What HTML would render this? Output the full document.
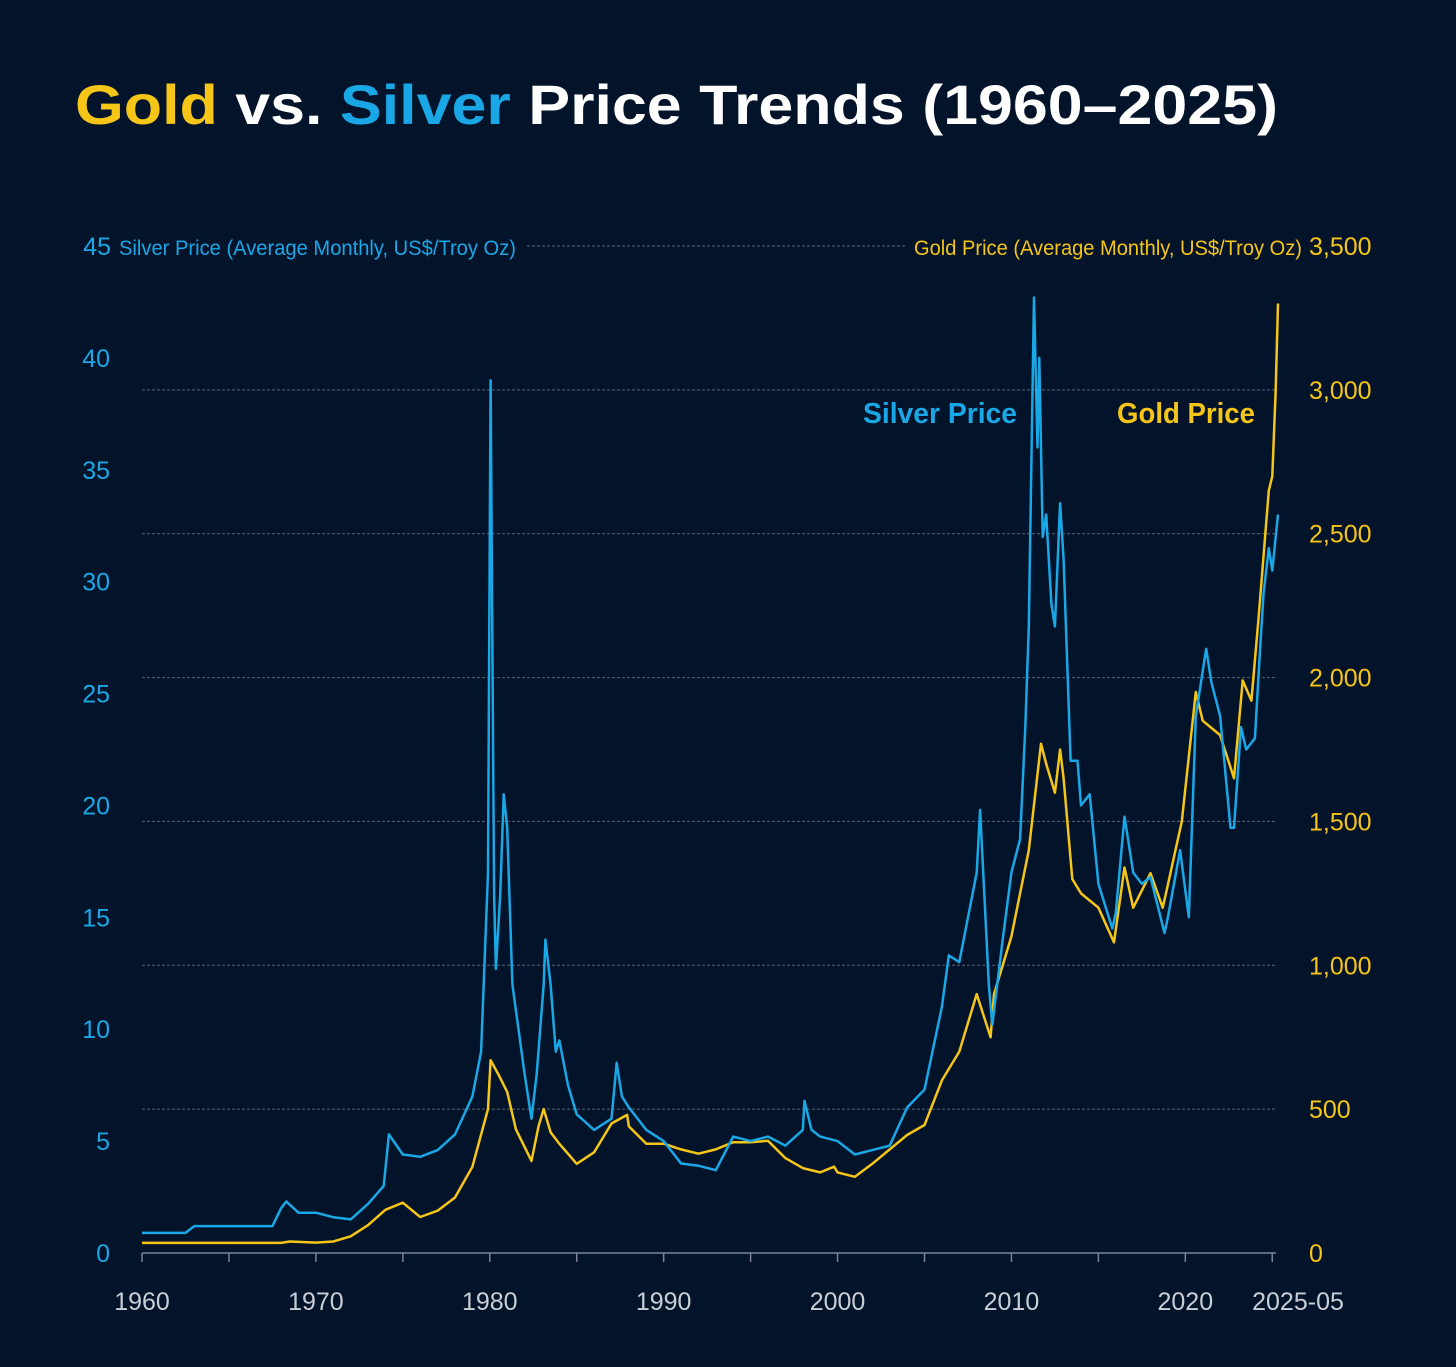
<!DOCTYPE html>
<html><head><meta charset="utf-8"><style>
html,body{margin:0;padding:0;background:#03132a;}
svg{display:block;font-family:"Liberation Sans",sans-serif;}
</style></head><body>
<svg id="chart" width="1456" height="1367" viewBox="0 0 1456 1367" xmlns="http://www.w3.org/2000/svg">
<rect width="1456" height="1367" fill="#03132a"/>
<text x="75" y="124" font-size="56" font-weight="bold" textLength="1203" lengthAdjust="spacingAndGlyphs"><tspan fill="#f5c518">Gold</tspan><tspan fill="#ffffff"> vs. </tspan><tspan fill="#1aa7e6">Silver</tspan><tspan fill="#ffffff"> Price Trends (1960–2025)</tspan></text>
<g id="grid"></g>
<g id="axes"></g>
<g id="series"></g>
<text x="119" y="255" font-size="21" fill="#1aa7e6" textLength="397" lengthAdjust="spacingAndGlyphs">Silver Price (Average Monthly, US$/Troy Oz)</text>
<text x="914" y="255" font-size="21" fill="#f5c518" textLength="388" lengthAdjust="spacingAndGlyphs">Gold Price (Average Monthly, US$/Troy Oz)</text>
<text x="863" y="423" font-size="29" font-weight="bold" fill="#1aa7e6" textLength="154" lengthAdjust="spacingAndGlyphs">Silver Price</text>
<text x="1117" y="423" font-size="29" font-weight="bold" fill="#f5c518" textLength="138" lengthAdjust="spacingAndGlyphs">Gold Price</text>
</svg>
<script>
const silverYears=[1960,1962.5,1963,1967.5,1968,1968.3,1969,1970,1971,1972,1973,1973.9,1974.2,1975,1976,1977,1978,1979,1979.5,1979.9,1980.05,1980.25,1980.35,1980.6,1980.8,1981,1981.3,1982,1982.4,1982.7,1983.1,1983.2,1983.5,1983.8,1984,1984.5,1985,1986,1987,1987.3,1987.6,1988,1989,1990,1991,1992,1993,1994,1995,1996,1997,1998,1998.1,1998.5,1999,2000,2001,2002,2003,2004,2005,2006,2006.4,2007,2008,2008.2,2008.7,2008.9,2009.5,2010,2010.5,2010.8,2011,2011.3,2011.5,2011.6,2011.8,2012,2012.3,2012.5,2012.8,2013,2013.4,2013.8,2014,2014.5,2015,2015.8,2016,2016.5,2017,2017.5,2018,2018.8,2019,2019.7,2020.2,2020.6,2021,2021.2,2021.5,2022,2022.6,2022.8,2023.2,2023.5,2024,2024.3,2024.5,2024.8,2025,2025.33];
const silverValues=[0.9,0.9,1.2,1.2,2.0,2.3,1.8,1.8,1.6,1.5,2.2,3.0,5.3,4.4,4.3,4.6,5.3,7,9,17,39,16,12.7,16,20.5,19,12,8,6,8,12,14,12,9,9.5,7.5,6.2,5.5,6,8.5,7,6.5,5.5,5,4,3.9,3.7,5.2,5,5.2,4.8,5.5,6.8,5.5,5.2,5,4.4,4.6,4.8,6.5,7.3,11,13.3,13,17,19.8,12,10.2,14,17,18.5,23.5,28,42.7,36,40,32,33,29,28,33.5,31,22,22,20,20.5,16.5,14.5,15.2,19.5,17,16.5,16.8,14.3,15,18,15,24,26,27,25.5,24,19,19,23.5,22.5,23,27,29.5,31.5,30.5,33];
const goldYears=[1960,1968,1968.5,1970,1971,1972,1973,1974,1975,1976,1977,1978,1979,1979.9,1980.05,1980.5,1981,1981.5,1982.4,1982.8,1983.1,1983.5,1984,1985,1986,1987,1987.9,1988,1989,1990,1991,1992,1993,1994,1995,1996,1997,1998,1999,1999.8,2000,2001,2002,2003,2004,2005,2006,2007,2008,2008.8,2009,2010,2011,2011.7,2012,2012.5,2012.8,2013,2013.5,2014,2015,2015.9,2016.5,2017,2018,2018.7,2019,2019.8,2020.6,2021,2022,2022.8,2023.3,2023.8,2024.2,2024.8,2025,2025.2,2025.33];
const goldValues=[35,35,40,36,40,58,97,150,175,125,147,193,300,500,670,620,560,430,320,440,500,420,380,310,350,450,480,440,380,380,360,345,360,385,385,390,330,295,280,300,280,265,310,360,410,445,600,700,900,750,900,1100,1400,1770,1700,1600,1750,1650,1300,1250,1200,1080,1340,1200,1320,1200,1280,1500,1950,1850,1800,1650,1990,1920,2200,2650,2700,3000,3300];
const silverTicks=[0,5,10,15,20,25,30,35,40,45];
const goldTicks=[0,500,1000,1500,2000,2500,3000,3500];
const xTickLabels=["1960","1970","1980","1990","2000","2010","2020","2025-05"];
const xTickYears=[1960,1970,1980,1990,2000,2010,2020,2025.33];

const NS="http://www.w3.org/2000/svg";
const X0=142,X1=1278,Y0=1253,YT=246;
const xs=y=>X0+(y-1960)/(2025.33-1960)*(X1-X0);
const ys=v=>Y0-v/45*(Y0-YT);
const yg=v=>Y0-v/3500*(Y0-YT);
function mk(tag,attrs,parent){const e=document.createElementNS(NS,tag);for(const k in attrs)e.setAttribute(k,attrs[k]);parent.appendChild(e);return e;}
const grid=document.getElementById('grid'),axes=document.getElementById('axes'),series=document.getElementById('series');
goldTicks.forEach(v=>{if(v===0)return;const y=yg(v);
 const l=mk('line',{x1:v===3500?527:X0,x2:v===3500?905:1276,y1:y,y2:y,stroke:'#5a6577','stroke-width':1,'stroke-dasharray':'3,2'},grid);
 
 });
const ax=mk('line',{x1:X0,x2:1276,y1:Y0,y2:Y0,stroke:'#7a8494','stroke-width':1.5},axes);


for(let yr=1960;yr<=2025;yr+=5){const t=mk('line',{x1:xs(yr),x2:xs(yr),y1:Y0,y2:Y0+9,stroke:'#7a8494','stroke-width':1.5},axes);
 
 }
xTickLabels.forEach((s,i)=>{let x=xs(xTickYears[i]);const t=mk('text',{x:i===7?x+20:x,y:1310,'font-size':25,fill:'#c9ced6','text-anchor':'middle'},axes);t.textContent=s;
 
 });
silverTicks.forEach(v=>{const t=mk('text',{x:v===45?111:110,y:ys(v)+9,'font-size':25,fill:'#1aa7e6','text-anchor':'end'},axes);t.textContent=v;
 
 });
goldTicks.forEach(v=>{const t=mk('text',{x:1309,y:yg(v)+9,'font-size':25,fill:'#f5c518'},axes);t.textContent=v.toLocaleString('en-US');
 
 });
const gp=mk('path',{d:goldYears.map((y,i)=>(i?'L':'M')+xs(y).toFixed(1)+','+yg(goldValues[i]).toFixed(1)).join(''),fill:'none',stroke:'#f5c518','stroke-width':2.5,'stroke-linejoin':'round'},series);


const sp=mk('path',{d:silverYears.map((y,i)=>(i?'L':'M')+xs(y).toFixed(1)+','+ys(silverValues[i]).toFixed(1)).join(''),fill:'none',stroke:'#1aa7e6','stroke-width':2.5,'stroke-linejoin':'round'},series);


</script>
</body></html>
